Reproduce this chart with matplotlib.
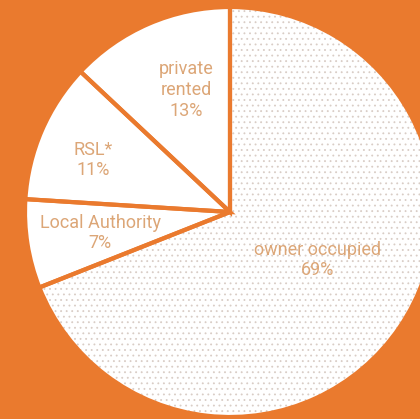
import matplotlib.pyplot as plt

# tenure shares, clockwise from 12 o'clock
tenures = ["owner occupied", "Local Authority", "RSL*", "private rented"]
shares = [69, 7, 11, 13]

ORANGE = "#EA7A2E"
TEXT = "#DCA677"
DOTS = "#D9CDC6"

plt.rcParams["hatch.linewidth"] = 0.6

fig = plt.figure(figsize=(4.2, 4.19), dpi=100)
fig.patch.set_facecolor(ORANGE)
ax = fig.add_axes([0, 0, 1, 1])

centre = (230, 207)
rad = 205

# fill + dot pattern for owner occupied
wedges, _ = ax.pie(shares, startangle=90, counterclock=False, center=centre,
                   radius=rad, colors=["white"] * 4, frame=True,
                   wedgeprops=dict(linewidth=0))
wedges[0].set_hatch("...")
wedges[0].set_edgecolor(DOTS)

# orange outlines on top
ax.pie(shares, startangle=90, counterclock=False, center=centre, radius=rad,
       colors=["none"] * 4, frame=True,
       wedgeprops=dict(linewidth=3, edgecolor=ORANGE, fill=False))
ax.set_xlim(0, 420)
ax.set_ylim(0, 419)
ax.set_aspect("equal")
ax.axis("off")

label_pos = [(318, 159), (100, 186), (93, 259), (186, 329)]
for name, val, (x, y) in zip(tenures, shares, label_pos):
    ax.text(x, y, f"{name.replace('private ', 'private' + chr(10))}\n{val}%",
            ha="center", va="center", color=TEXT, fontsize=13,
            family="Roboto", linespacing=1.2, zorder=10)

fig.savefig("out.png", dpi=100, facecolor=ORANGE)
